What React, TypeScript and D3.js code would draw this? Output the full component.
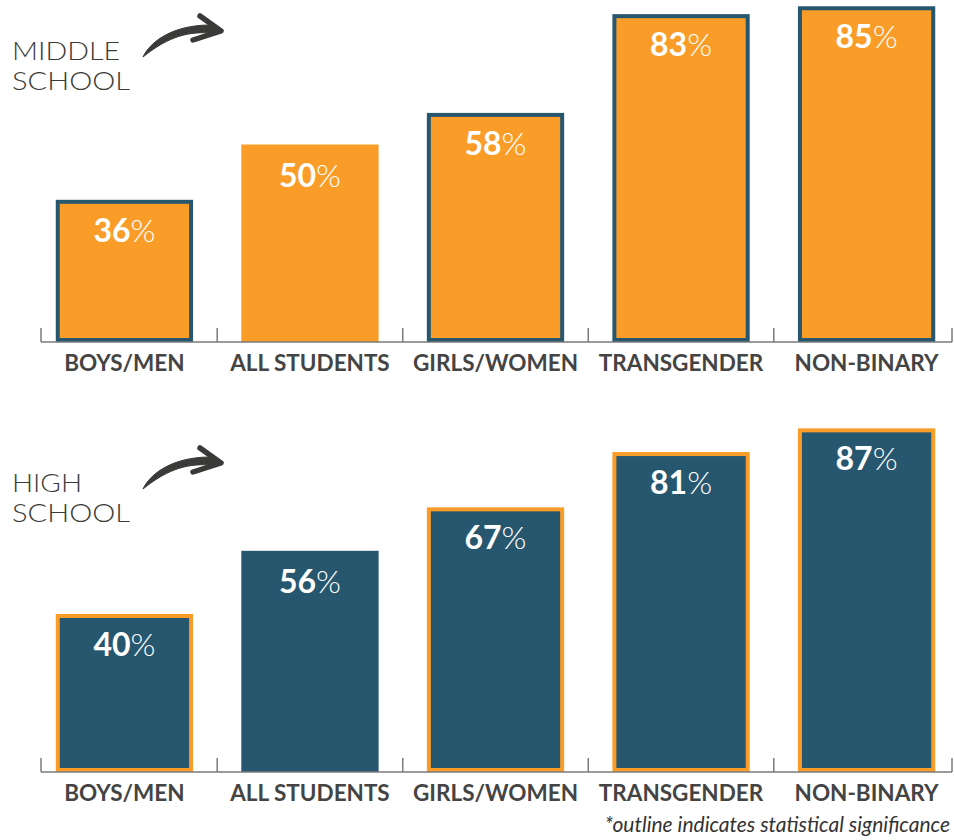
import * as d3 from 'd3';
import React from 'react';

// survey shares by group, in percent
const categories = ['BOYS/MEN', 'ALL STUDENTS', 'GIRLS/WOMEN', 'TRANSGENDER', 'NON-BINARY'];
const middleValues = [36, 50, 58, 83, 85];
const highValues = [40, 56, 67, 81, 87];
// outlined bars = statistically significant
const middleSignificant = [true, false, true, true, true];
const highSignificant = [true, false, true, true, true];

const ORANGE = '#F99D28';
const NAVY = '#27566F';
const TEXT = '#444444';

const x = d3.scaleBand<string>()
  .domain(categories)
  .range([40, 951])
  .paddingInner(0.26)
  .paddingOuter(0.085);

const Arrow = ({ ox, oy }: { ox: number; oy: number }) => (
  <g transform={`translate(${ox},${oy})`} fill="#3a3b39" stroke="#3a3b39">
    <path d="M13,47 C20,32 42,15 80,15 L91,21 L80,23 C54,21 34,30 13,47 Z" strokeWidth={1} strokeLinejoin="round" />
    <path d="M70,6 L91,21 L63,30" fill="none" strokeWidth={5.5} strokeLinecap="round" strokeLinejoin="round" />
  </g>
);

type PanelProps = {
  title: string[];
  values: number[];
  significant: boolean[];
  fill: string;
  outline: string;
  baseline: number;
  titleY: number;
};

const Panel = ({ title, values, significant, fill, outline, baseline, titleY }: PanelProps) => {
  const y = d3.scaleLinear().domain([0, 100]).range([baseline, baseline - 395]);
  const bw = x.bandwidth();
  const gap = x.step() - bw;
  const ticks = [41, ...categories.slice(0, -1).map(c => (x(c) as number) + bw + gap / 2), 952];

  return (
    <g>
      {title.map((t, i) => (
        <text
          key={t}
          x={12}
          y={titleY + i * 30}
          fontFamily="Lato, sans-serif"
          fontWeight={300}
          fontSize={24.5}
          fill="#3a3b39"
          textLength={i === 0 ? (t.length > 4 ? 108 : 70) : 118}
          lengthAdjust="spacingAndGlyphs"
        >
          {t}
        </text>
      ))}
      <Arrow ox={130} oy={titleY - 50} />

      {categories.map((c, i) => {
        const x0 = x(c) as number;
        const top = y(values[i]);
        return (
          <g key={c}>
            {significant[i] ? (
              <rect
                x={x0 + 2}
                y={top + 2}
                width={bw - 4}
                height={baseline - top - 4}
                fill={fill}
                stroke={outline}
                strokeWidth={4}
              />
            ) : (
              <rect x={x0} y={top} width={bw} height={baseline - top} fill={fill} />
            )}
            <text
              x={x0 + bw / 2}
              y={top + 42}
              textAnchor="middle"
              fontFamily="Lato, sans-serif"
              fontSize={32}
              fill="#ffffff"
            >
              <tspan fontWeight={700}>{values[i]}</tspan>
              <tspan fontWeight={300}>%</tspan>
            </text>
            <text
              x={x0 + bw / 2}
              y={baseline + 29}
              textAnchor="middle"
              fontFamily="Lato, sans-serif"
              fontWeight={700}
              fontSize={22.5}
              fill={TEXT}
            >
              {c}
            </text>
          </g>
        );
      })}

      <line x1={41} x2={952} y1={baseline} y2={baseline} stroke="#7a7a7a" strokeWidth={1.5} />
      {ticks.map((t, i) => (
        <line key={i} x1={t} x2={t} y1={baseline} y2={baseline - 14} stroke="#7a7a7a" strokeWidth={1.5} />
      ))}
    </g>
  );
};

export default function App() {
  return (
    <svg
      width={954}
      height={840}
      style={{ position: 'absolute', left: 0, top: 0, background: '#ffffff' }}
    >
      <Panel
        title={['MIDDLE', 'SCHOOL']}
        values={middleValues}
        significant={middleSignificant}
        fill={ORANGE}
        outline={NAVY}
        baseline={342}
        titleY={60}
      />
      <Panel
        title={['HIGH', 'SCHOOL']}
        values={highValues}
        significant={highSignificant}
        fill={NAVY}
        outline={ORANGE}
        baseline={772}
        titleY={492}
      />
      <text
        x={950}
        y={832}
        textAnchor="end"
        fontFamily="Lato, sans-serif"
        fontStyle="italic"
        fontSize={21}
        fill="#333333"
      >
        *outline indicates statistical significance
      </text>
    </svg>
  );
}
